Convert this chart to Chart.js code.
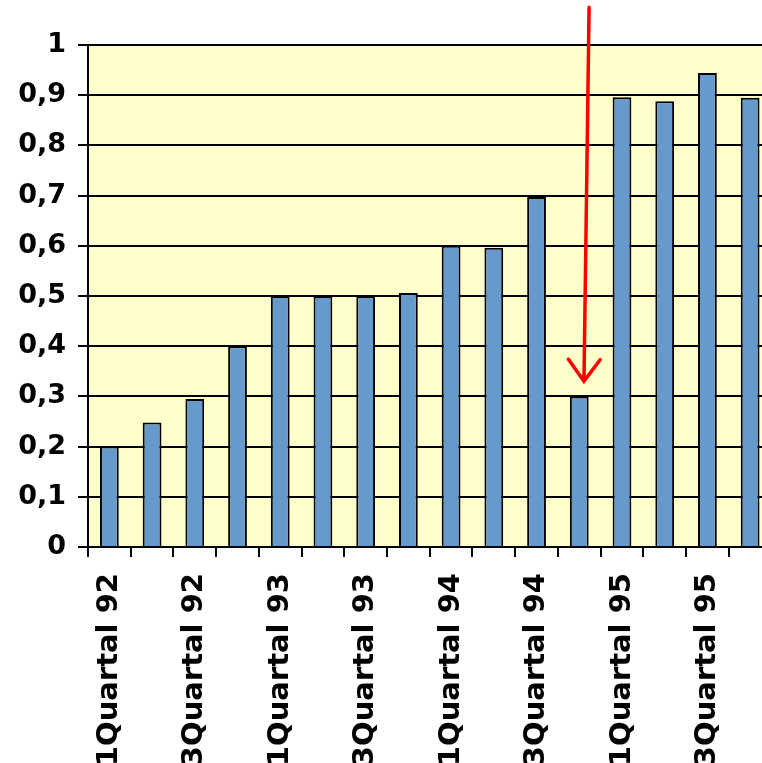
<!DOCTYPE html>
<html>
<head>
<meta charset="utf-8">
<script src="https://cdn.jsdelivr.net/npm/chart.js@4"></script>
<style>
  html, body { margin: 0; padding: 0; background: #fff; overflow: hidden; }
  canvas { display: block; }
</style>
</head>
<body>
<canvas id="chart" width="801" height="763"></canvas>
<script>
// ─── DATA ─────────────────────────────────────────────────────
const quarters = [
    '1Quartal 92', '2Quartal 92', '3Quartal 92', '4Quartal 92',
    '1Quartal 93', '2Quartal 93', '3Quartal 93', '4Quartal 93',
    '1Quartal 94', '2Quartal 94', '3Quartal 94', '4Quartal 94',
    '1Quartal 95', '2Quartal 95', '3Quartal 95', '4Quartal 95'
];
const values = [0.2, 0.248, 0.295, 0.4, 0.5, 0.5, 0.5, 0.506, 0.6, 0.596, 0.697, 0.3, 0.896, 0.888, 0.944, 0.895];
const yTicks = [0, 0.1, 0.2, 0.3, 0.4, 0.5, 0.6, 0.7, 0.8, 0.9, 1];

// red arrow pointing at the dip (category index, value)
const arrowFrom = { x: 11.23, y: 1.075 };
const arrowTo   = { x: 11.11, y: 0.33 };

// ─── PLUGINS ──────────────────────────────────────────────────
const plotBg = {
    id: 'plotBg',
    beforeDraw(chart) {
        const { ctx, chartArea: a } = chart;
        ctx.save();
        ctx.fillStyle = '#ffffcc';
        ctx.fillRect(a.left, a.top, a.right - a.left, a.bottom - a.top);
        ctx.restore();
    }
};

const arrow = {
    id: 'arrow',
    afterDatasetsDraw(chart) {
        const { ctx, scales: { x, y } } = chart;
        const x0 = x.getPixelForValue(arrowFrom.x), y0 = y.getPixelForValue(arrowFrom.y);
        const x1 = x.getPixelForValue(arrowTo.x),   y1 = y.getPixelForValue(arrowTo.y);
        const ang = Math.atan2(y1 - y0, x1 - x0);
        const len = 27, spread = Math.PI / 5;
        ctx.save();
        ctx.strokeStyle = '#ff0000';
        ctx.lineWidth = 3.5;
        ctx.lineCap = 'round';
        ctx.beginPath();
        ctx.moveTo(x0, y0);
        ctx.lineTo(x1, y1);
        ctx.moveTo(x1 - len * Math.cos(ang - spread), y1 - len * Math.sin(ang - spread));
        ctx.lineTo(x1, y1);
        ctx.lineTo(x1 - len * Math.cos(ang + spread), y1 - len * Math.sin(ang + spread));
        ctx.stroke();
        ctx.restore();
    }
};

// ─── CHART ────────────────────────────────────────────────────
const font = { family: '"DejaVu Sans", Verdana, sans-serif', weight: 'bold' };

new Chart(document.getElementById('chart'), {
    type: 'bar',
    data: {
        labels: quarters,
        datasets: [{
            data: values,
            backgroundColor: '#6699cc',
            borderColor: '#000',
            borderWidth: 2,
            categoryPercentage: 1,
            barPercentage: 0.44
        }]
    },
    options: {
        responsive: false,
        animation: false,
        layout: { padding: { top: 45, right: 2, left: 0, bottom: 0 } },
        plugins: { legend: { display: false }, tooltip: { enabled: false } },
        scales: {
            x: {
                offset: true,
                grid: { offset: true, drawOnChartArea: false, color: '#000', lineWidth: 2, tickLength: 10 },
                border: { color: '#000', width: 2 },
                ticks: {
                    autoSkip: false,
                    maxRotation: 90,
                    minRotation: 90,
                    padding: 16,
                    color: '#000',
                    font: { ...font, size: 29 },
                    callback: (v, i) => i % 2 === 0 ? quarters[i] : ''
                },
                afterFit: s => { s.height = 216; }
            },
            y: {
                min: 0,
                max: 1,
                afterBuildTicks: s => { s.ticks = yTicks.map(v => ({ value: v })); },
                grid: { color: '#000', lineWidth: 2, tickLength: 10 },
                border: { color: '#000', width: 2 },
                ticks: {
                    padding: 12,
                    color: '#000',
                    font: { ...font, size: 27 },
                    callback: v => String(Math.round(v * 10) / 10).replace('.', ',')
                },
                afterFit: s => { s.width = 88; }
            }
        }
    },
    plugins: [plotBg, arrow]
});
</script>
</body>
</html>
